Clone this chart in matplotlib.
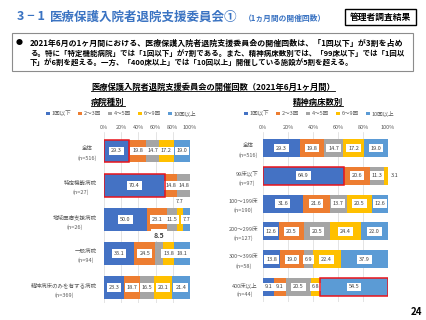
import numpy as np
import matplotlib
matplotlib.use('Agg')
import matplotlib.pyplot as plt
from matplotlib.patches import Rectangle
from matplotlib.lines import Line2D

plt.rcParams['font.family'] = ['Noto Sans CJK JP', 'DejaVu Sans']

# data
series_names = ['1回以下', '2～3回', '4～5回', '6～9回', '10回以上']
series_colors = ['#4472C4', '#ED7D31', '#A5A5A5', '#FFC000', '#5B9BD5']

hosp_labels = ['全体\n(n=516)', '特定機能病院\n(n=27)', '地域医療支援病院\n(n=26)',
               '一般病院\n(n=94)', '精神病床のみを有する病院\n(n=369)']
hosp_values = [[29.3, 19.8, 14.7, 17.2, 19.0],
               [70.4, 14.8, 14.8, 0, 0],
               [50.0, 23.1, 11.5, 7.7, 7.7],
               [35.1, 24.5, 8.5, 13.8, 18.1],
               [23.3, 18.7, 16.5, 20.1, 21.4]]

bed_labels = ['全体\n(n=516)', '99床以下\n(n=97)', '100～199床\n(n=190)',
              '200～299床\n(n=127)', '300～399床\n(n=58)', '400床以上\n(n=44)']
bed_values = [[29.3, 19.8, 14.7, 17.2, 19.0],
              [64.9, 20.6, 11.3, 3.1, 0],
              [31.6, 21.6, 13.7, 20.5, 12.6],
              [12.6, 20.5, 20.5, 24.4, 22.0],
              [13.8, 19.0, 6.9, 22.4, 37.9],
              [9.1, 9.1, 20.5, 6.8, 54.5]]

pct_ticks = [0, 20, 40, 60, 80, 100]

W, H = 427, 320
BLUE = '#3A73C2'
GRAY_TXT = '#595959'


def fx(px):
    return px / W


def fy(py):
    return 1 - py / H


fig = plt.figure(figsize=(W / 100, H / 100), dpi=100)
fig.patch.set_facecolor('white')


def draw_panel(rect_px, labels, values, height, ylim, label_pad,
               highlight=(), above=(), outside=(), bold=()):
    x0, y0, x1, y1 = rect_px
    ax = fig.add_axes([fx(x0), fy(y1), (x1 - x0) / W, (y1 - y0) / H])
    vals = np.array(values, dtype=float)
    n = len(labels)
    ypos = np.arange(n)
    left = np.zeros(n)
    for j in range(vals.shape[1]):
        ax.barh(ypos, vals[:, j], left=left, height=height,
                color=series_colors[j], label=series_names[j], zorder=2)
        for i in range(n):
            v = vals[i, j]
            if v <= 0:
                continue
            xc, yc, ha = left[i] + v / 2, ypos[i], 'center'
            if (i, j) in above:
                yc = ypos[i] - height / 2 - 0.2
            if (i, j) in outside:
                xc, ha = left[i] + v + 2, 'left'
            kw = dict(fontsize=4, color='#404040')
            if (i, j) in bold:
                kw = dict(fontsize=5, color='#404040', weight='bold')
            ax.text(xc, yc, f'{v:.1f}', ha=ha, va='center', zorder=4,
                    bbox=dict(boxstyle='square,pad=0.35', fc='white', ec='none'),
                    **kw)
        left += vals[:, j]
    # red highlight frames
    for i, j in highlight:
        start = vals[i, :j].sum()
        ax.barh(ypos[i], vals[i, j], left=start, height=height, fill=False,
                edgecolor='#E8141B', lw=1.1, zorder=5)
    ax.set_xlim(0, 100)
    ax.set_ylim(*ylim)
    ax.xaxis.tick_top()
    ax.set_xticks(pct_ticks, [f'{t}%' for t in pct_ticks])
    ax.set_yticks(ypos, labels)
    ax.tick_params(axis='x', length=0, pad=1.5, labelsize=4, labelcolor=GRAY_TXT)
    ax.tick_params(axis='y', length=0, pad=label_pad, labelsize=4, labelcolor=GRAY_TXT)
    for t in ax.get_yticklabels():
        t.set_multialignment('center')
        t.set_linespacing(1.9)
    ax.grid(axis='x', color='#D9D9D9', lw=0.5, zorder=0)
    ax.set_axisbelow(True)
    for s in ax.spines.values():
        s.set_visible(False)
    return ax


ax1 = draw_panel((104, 132, 190, 303), hosp_labels, hosp_values, 0.67,
                 (4.44, -0.555), 5,
                 highlight=[(0, 0), (1, 0)], above=[(2, 3), (3, 2)], bold=[(3, 2)])
ax2 = draw_panel((263, 132, 388, 302), bed_labels, bed_values, 0.65,
                 (5.54, -0.576), 3.6,
                 highlight=[(1, 0), (5, 4)], outside=[(1, 3)])

for ax, cx in ((ax1, 121), (ax2, 319)):
    ax.legend(loc='center', bbox_to_anchor=(fx(cx), fy(113.5)),
              bbox_transform=fig.transFigure, ncol=5, frameon=False, fontsize=4,
              handlelength=0.7, handleheight=0.7, columnspacing=1.3,
              handletextpad=0.3, labelcolor=GRAY_TXT, borderaxespad=0)

# page header
fig.text(fx(17), fy(17), '3 − 1', color=BLUE, fontsize=9, weight='bold', va='center')
fig.text(fx(50), fy(17), '医療保護入院者退院支援委員会①', color=BLUE, fontsize=9,
         weight='bold', va='center')
fig.text(fx(244), fy(18), '（1ヵ月間の開催回数）', color=BLUE, fontsize=5.6,
         weight='bold', va='center')
fig.add_artist(Rectangle((fx(345), fy(25)), 71 / W, 16 / H, transform=fig.transFigure,
                         fill=False, edgecolor='black', lw=1))
fig.text(fx(380.5), fy(17), '管理者調査結果', fontsize=6.3, weight='bold',
         ha='center', va='center')

# summary box
fig.add_artist(Rectangle((fx(12), fy(71)), 401 / W, 38 / H, transform=fig.transFigure,
                         fill=False, edgecolor='#8C8C8C', lw=0.8))
summary = ['2021年6月の1ヶ月間における、医療保護入院者退院支援委員会の開催回数は、「1回以下」が3割を占め',
           'る。特に「特定機能病院」では「1回以下」が7割である。また、精神病床数別では、「99床以下」では「1回以',
           '下」が6割を超える。一方、「400床以上」では「10回以上」開催している施設が5割を超える。']
fig.text(fx(19), fy(43), '●', fontsize=5, va='center', ha='center')
lines = [fig.text(fx(30), fy(43 + 10 * k), line, fontsize=5.4, weight='bold', va='center')
         for k, line in enumerate(summary)]

# chart titles (underlined)
titles = [fig.text(fx(91), fy(87), '医療保護入院者退院支援委員会の開催回数（2021年6月1ヶ月間）',
                   fontsize=5.9, weight='bold', va='center'),
          fig.text(fx(91), fy(102), '病院種別', fontsize=6, weight='bold', va='center'),
          fig.text(fx(318), fy(102), '精神病床数別', fontsize=6, weight='bold',
                   va='center', ha='center')]

# fit the long texts to the widths they have on the slide
fig.canvas.draw()
sizes = [5.4 * 372 / lines[k].get_window_extent().width for k in (0, 1)]
lines[0].set_fontsize(sizes[0])
lines[1].set_fontsize(sizes[1])
lines[2].set_fontsize(min(sizes))
wt = titles[0].get_window_extent().width
titles[0].set_fontsize(5.9 * 243 / wt)

fig.canvas.draw()
inv = fig.transFigure.inverted()
for t in titles:
    bb = t.get_window_extent().transformed(inv)
    fig.add_artist(Line2D([bb.x0, bb.x1], [bb.y0 + 0.002] * 2,
                          transform=fig.transFigure, color='black', lw=0.6))

fig.text(fx(416), fy(312), '24', fontsize=7, weight='bold', ha='center', va='center')

fig.savefig('out.png', dpi=100)
